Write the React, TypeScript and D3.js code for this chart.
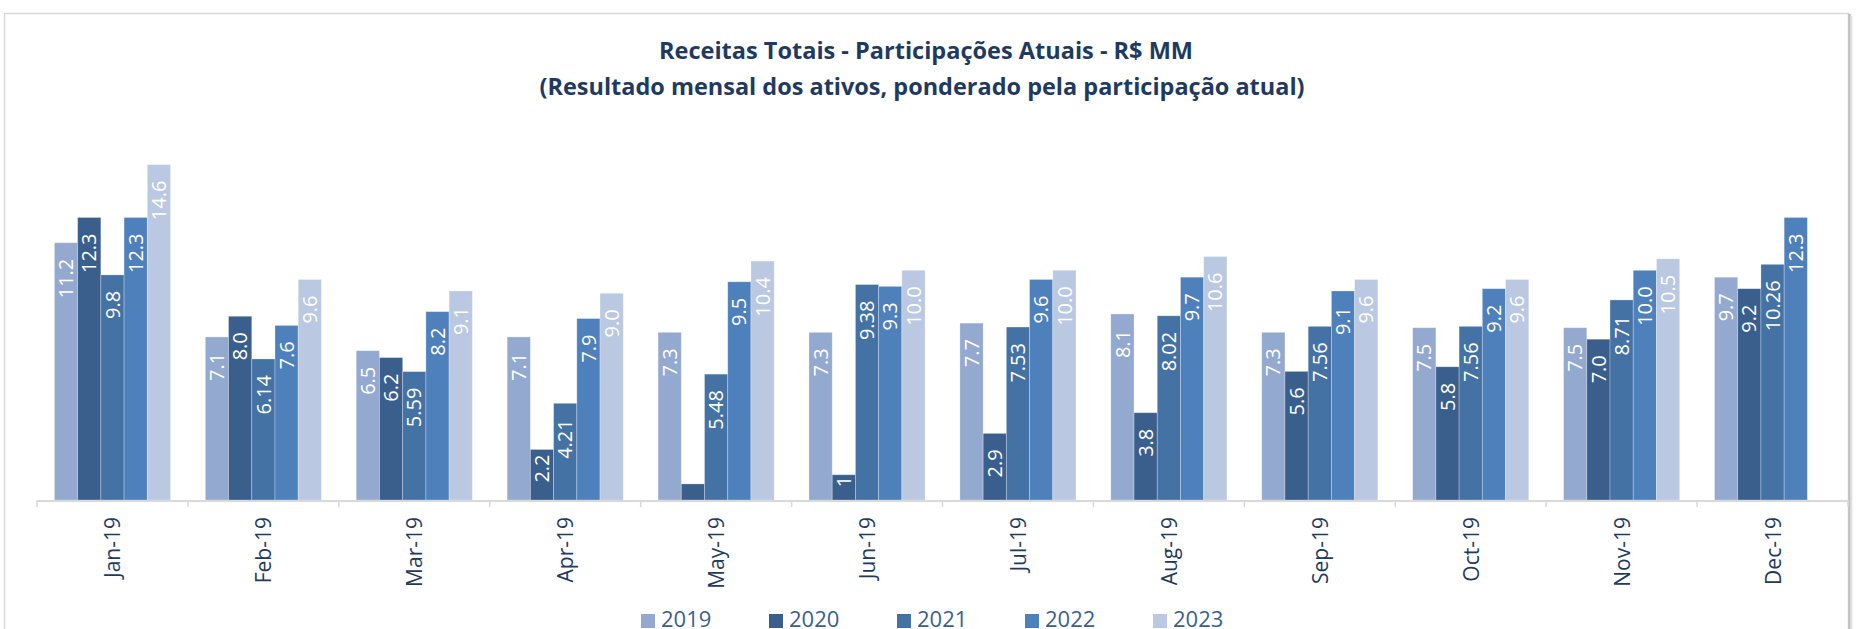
import React from "react";
import * as d3 from "d3";

const months = ["Jan-19","Feb-19","Mar-19","Apr-19","May-19","Jun-19","Jul-19","Aug-19","Sep-19","Oct-19","Nov-19","Dec-19"];
const seriesNames = ["2019","2020","2021","2022","2023"];
const colors = ["#94A9CF","#3A5F8D","#4472A5","#4E80BC","#BAC8E1"];

const v2019 = [11.2, 7.1, 6.5, 7.1, 7.3, 7.3, 7.7, 8.1, 7.3, 7.5, 7.5, 9.7];
const v2020 = [12.3, 8.0, 6.2, 2.2, 0.7, 1.1, 2.9, 3.8, 5.6, 5.8, 7.0, 9.2];
const v2021 = [9.8, 6.14, 5.59, 4.21, 5.48, 9.38, 7.53, 8.02, 7.56, 7.56, 8.71, 10.26];
const v2022 = [12.3, 7.6, 8.2, 7.9, 9.5, 9.3, 9.6, 9.7, 9.1, 9.2, 10.0, 12.3];
const v2023 = [14.6, 9.6, 9.1, 9.0, 10.4, 10.0, 10.0, 10.6, 9.6, 9.6, 10.5, null];

const l2019 = ["11.2","7.1","6.5","7.1","7.3","7.3","7.7","8.1","7.3","7.5","7.5","9.7"];
const l2020 = ["12.3","8.0","6.2","2.2","","1","2.9","3.8","5.6","5.8","7.0","9.2"];
const l2021 = ["9.8","6.14","5.59","4.21","5.48","9.38","7.53","8.02","7.56","7.56","8.71","10.26"];
const l2022 = ["12.3","7.6","8.2","7.9","9.5","9.3","9.6","9.7","9.1","9.2","10.0","12.3"];
const l2023 = ["14.6","9.6","9.1","9.0","10.4","10.0","10.0","10.6","9.6","9.6","10.5",""];

const values = [v2019, v2020, v2021, v2022, v2023];
const labels = [l2019, l2020, l2021, l2022, l2023];

const titleLine1 = "Receitas Totais - Participações Atuais - R$ MM";
const titleLine2 = "(Resultado mensal dos ativos, ponderado pela participação atual)";

export default function App() {
  const W = 1859, H = 629;
  const baseY = 500;
  const x0 = 37, x1 = 1848;
  const x = d3.scaleBand<string>().domain(months).range([x0, x1]).paddingInner(0).paddingOuter(0);
  const bw = x.bandwidth() / 6.5;
  const xs = d3.scaleBand<string>().domain(seriesNames).range([0.75 * bw, 5.75 * bw]).padding(0);
  const y = d3.scaleLinear().domain([0, 16]).range([baseY, baseY - 16 * 22.97]);

  const font = "'Open Sans', 'Noto Sans', sans-serif";
  const navy = "#1F3A60";
  const labelSize = 20;
  const cap = labelSize * 0.714;

  const bars: any[] = [];
  const texts: any[] = [];
  seriesNames.forEach((s, si) => {
    months.forEach((m, mi) => {
      const v = values[si][mi];
      if (v == null) return;
      const bx = (x(m) as number) + (xs(s) as number);
      const top = y(v);
      const h = baseY - top;
      bars.push(
        <rect key={`b-${si}-${mi}`} x={bx} y={top} width={xs.bandwidth()} height={h}
          fill={colors[si]} stroke="#ffffff" strokeOpacity={0.35} strokeWidth={0.8} />
      );
      const lab = labels[si][mi];
      if (lab) {
        const off = h > 60 ? 16 : h > 40 ? 5 : 1;
        const cx = bx + xs.bandwidth() / 2 + cap / 2;
        const ty = top + off;
        texts.push(
          <text key={`t-${si}-${mi}`} transform={`translate(${cx},${ty}) rotate(-90)`}
            textAnchor="end" fill="#ffffff" fontFamily={font} fontSize={labelSize}>{lab}</text>
        );
      }
    });
  });

  const ticks = [...months.map(m => x(m) as number), x1];

  return (
    <svg width={W} height={H} style={{ position: "absolute", left: 0, top: 0, background: "#fff" }}>
      <rect x={0} y={0} width={W} height={H} fill="#ffffff" />
      <rect x={4.5} y={13.5} width={1844} height={700} fill="#ffffff" stroke="#D9D9D9" strokeWidth={1.5} />
      <line x1={1849.5} x2={1849.5} y1={14} y2={H} stroke="#BFBFBF" strokeWidth={2.5} />
      <line x1={1851.5} x2={1851.5} y1={16} y2={H} stroke="#E3E3E3" strokeWidth={2} />

      <text x={926} y={59} textAnchor="middle" fontFamily={font} fontWeight={700} fontSize={23}
        fill={navy} textLength={534} lengthAdjust="spacingAndGlyphs">{titleLine1}</text>
      <text x={922} y={95} textAnchor="middle" fontFamily={font} fontWeight={700} fontSize={23}
        fill={navy} textLength={765} lengthAdjust="spacingAndGlyphs">{titleLine2}</text>

      {bars}
      {texts}

      <line x1={x0} x2={x1} y1={baseY + 1} y2={baseY + 1} stroke="#D9D9D9" strokeWidth={2} />
      {ticks.map((t, i) => (
        <line key={`tk-${i}`} x1={t} x2={t} y1={baseY} y2={baseY + 7} stroke="#D9D9D9" strokeWidth={1.5} />
      ))}
      {months.map(m => {
        const cx = (x(m) as number) + x.bandwidth() / 2 + 8;
        return (
          <text key={`ax-${m}`} transform={`translate(${cx},${517}) rotate(-90)`} textAnchor="end"
            fontFamily={font} fontSize={21} fill={navy}>{m}</text>
        );
      })}

      {seriesNames.map((s, i) => {
        const lx = 641 + i * 128;
        return (
          <g key={`lg-${s}`}>
            <rect x={lx} y={614} width={14} height={14} fill={colors[i]} />
            <text x={lx + 20} y={627} fontFamily={font} fontSize={22} fill="#3A5F8D">{s}</text>
          </g>
        );
      })}
    </svg>
  );
}
